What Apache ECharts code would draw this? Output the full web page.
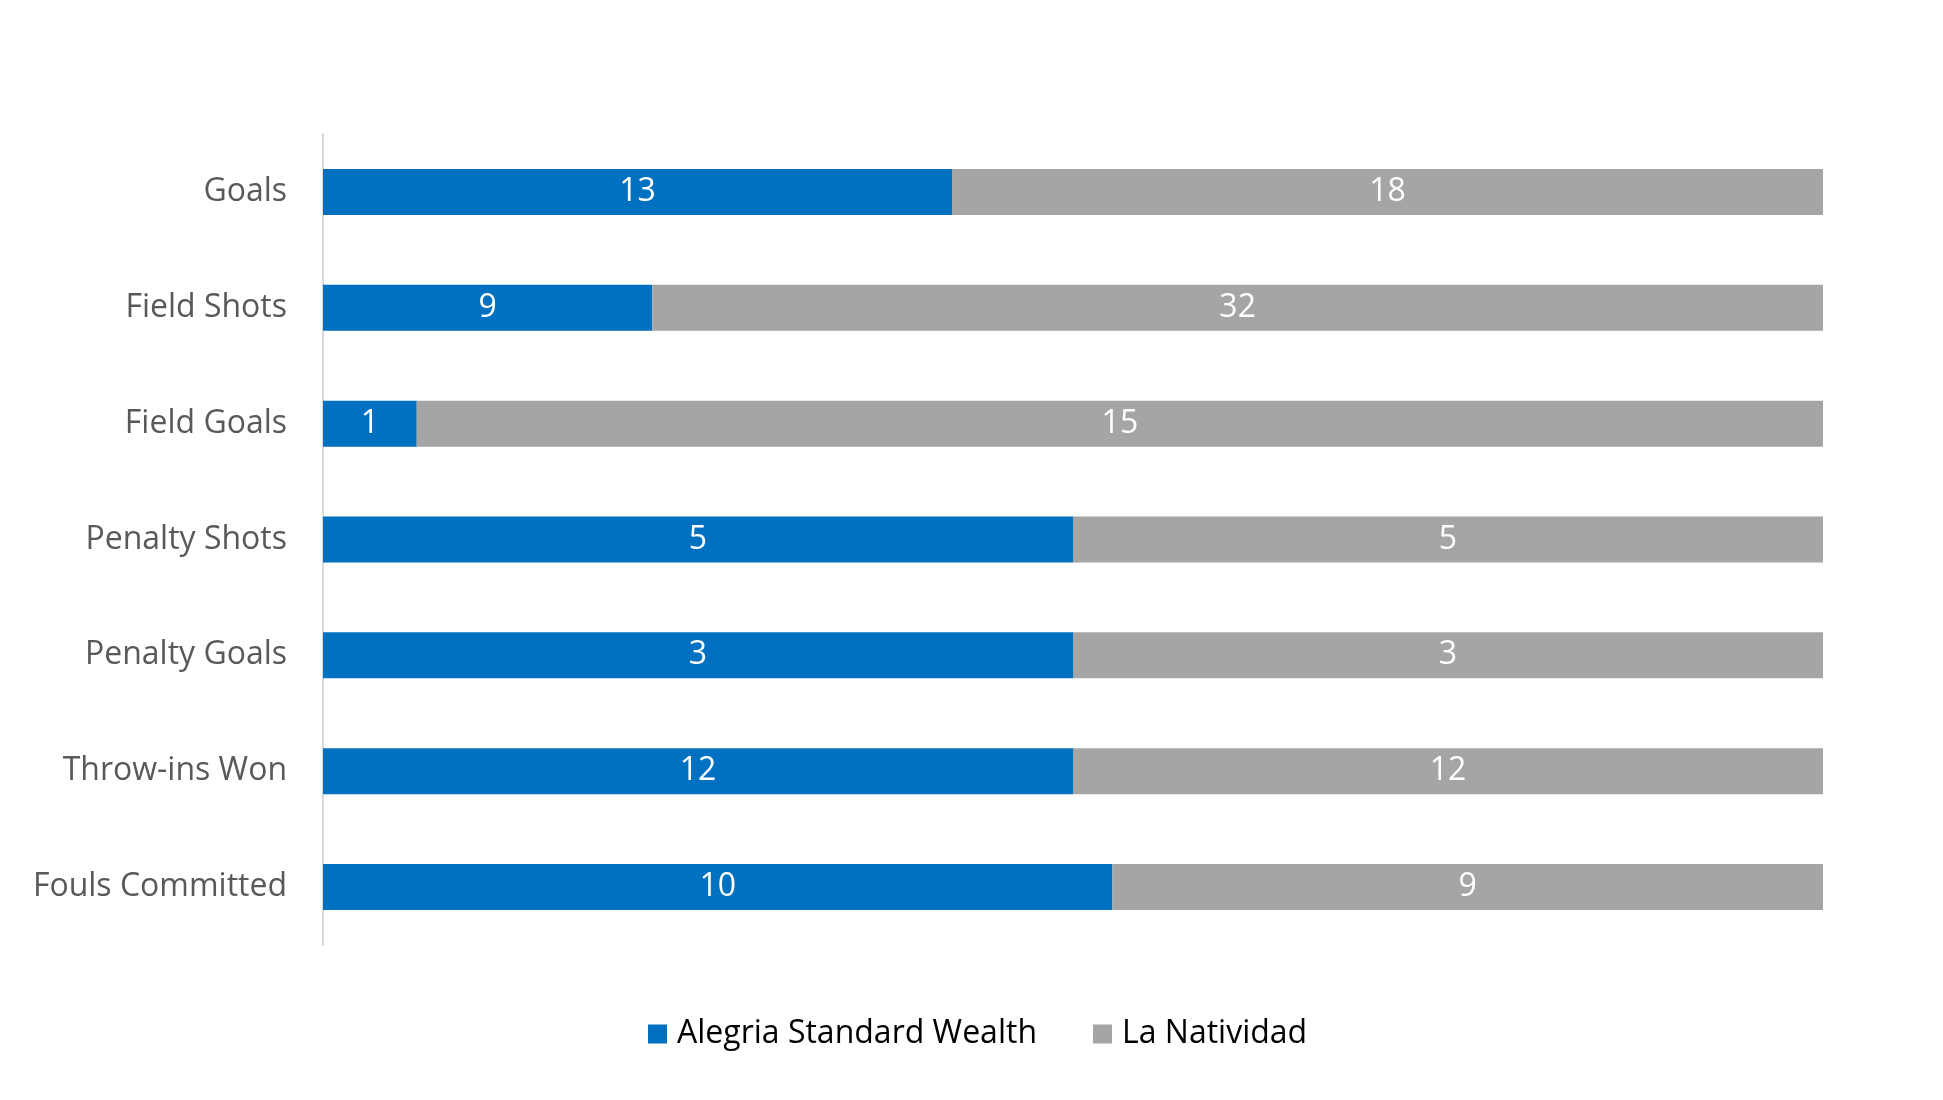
<!DOCTYPE html>
<html>
<head>
<meta charset="utf-8">
<style>html,body{margin:0;padding:0;background:#fff;}#chart{width:1943px;height:1100px;}</style>
<script src="https://cdn.jsdelivr.net/npm/echarts@6/dist/echarts.min.js"></script>
</head>
<body>
<div id="chart"></div>
<script>
var categories = ['Goals', 'Field Shots', 'Field Goals', 'Penalty Shots', 'Penalty Goals', 'Throw-ins Won', 'Fouls Committed'];
var seriesNames = ['Alegria Standard Wealth', 'La Natividad'];
var alegria = [13, 9, 1, 5, 3, 12, 10];
var natividad = [18, 32, 15, 5, 3, 12, 9];

var totals = categories.map(function (c, i) { return alegria[i] + natividad[i]; });
function shares(arr) {
  return arr.map(function (v, i) { return { value: v / totals[i], raw: v }; });
}
var labelStyle = {
  show: true, position: 'inside', color: '#ffffff', fontSize: 32,
  fontFamily: 'Open Sans', formatter: function (p) { return p.data.raw; }
};
var chart = echarts.init(document.getElementById('chart'));
chart.setOption({
  animation: false,
  textStyle: { fontFamily: 'Open Sans' },
  grid: { left: 323, right: 120, top: 134, bottom: 155, containLabel: false },
  legend: {
    data: seriesNames, left: 648, top: 1018, padding: 0, icon: 'rect', itemWidth: 19, itemHeight: 19,
    itemGap: 56, textStyle: { color: '#000000', fontSize: 32, fontFamily: 'Open Sans', padding: [0, 0, 0, 5] }
  },
  xAxis: { type: 'value', min: 0, max: 1, show: false, splitLine: { show: false } },
  yAxis: {
    type: 'category', data: categories, inverse: true,
    axisLine: { show: true, lineStyle: { color: '#d9d9d9', width: 2 } },
    axisTick: { show: false },
    axisLabel: { color: '#595959', fontSize: 32, margin: 36, fontFamily: 'Open Sans' }
  },
  series: [
    { name: seriesNames[0], type: 'bar', stack: 'total', barWidth: 46, data: shares(alegria),
      itemStyle: { color: '#0070C0' }, label: labelStyle },
    { name: seriesNames[1], type: 'bar', stack: 'total', barWidth: 46, data: shares(natividad),
      itemStyle: { color: '#A5A5A5' }, label: labelStyle }
  ]
});
</script>
</body>
</html>
